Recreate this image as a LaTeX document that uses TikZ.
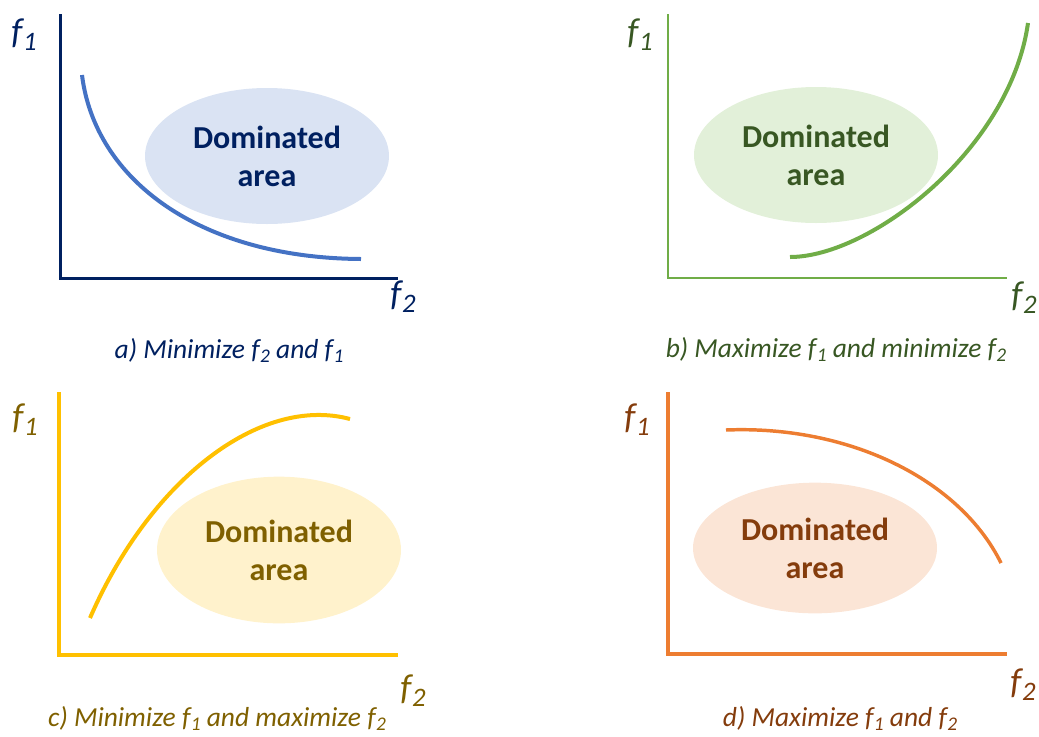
\documentclass[tikz,border=0pt]{standalone}
\usepackage{fontspec}
\setmainfont{Carlito}
\usetikzlibrary{shapes.geometric}
\definecolor{navy}{HTML}{002060}
\definecolor{bluecurve}{HTML}{4472C4}
\definecolor{bluefill}{HTML}{DAE3F3}
\definecolor{greenline}{HTML}{70AD47}
\definecolor{greentext}{HTML}{385723}
\definecolor{greenfill}{HTML}{E2F0D9}
\definecolor{goldline}{HTML}{FFC000}
\definecolor{goldtext}{HTML}{7F6000}
\definecolor{goldfill}{HTML}{FFF2CC}
\definecolor{orangeline}{HTML}{ED7D31}
\definecolor{orangetext}{HTML}{843C0C}
\definecolor{orangefill}{HTML}{FBE5D6}
\newcommand{\flab}[1]{f\kern0.5pt\raisebox{-0.4ex}{\fontsize{20}{20}\selectfont #1}}
\newcommand{\fcap}[1]{f\kern0.3pt\raisebox{-0.35ex}{\fontsize{14.5}{14.5}\selectfont #1}}
\begin{document}
\begin{tikzpicture}[x=0.75pt,y=-0.75pt,
  axisline/.style={line width=#1, line cap=butt, line join=miter},
  front/.style={line width=3pt, line cap=butt},
  dom/.style={ellipse, inner sep=0pt, align=center, minimum width=183pt, minimum height=102pt,
              font=\fontsize{24}{28.5}\selectfont\bfseries},
  flabel/.style={font=\fontsize{27}{27}\selectfont\itshape, inner sep=0pt},
  capt/.style={font=\fontsize{20.6}{20.6}\selectfont\itshape, anchor=base, inner sep=0pt}]
\useasboundingbox (0,0) rectangle (1039,736);

% ---------- a ----------
\coordinate (a-top) at (60,14);
\coordinate (a-o) at (60,278);
\coordinate (a-right) at (398,278);
\draw[axisline=2.25pt, navy] (a-top) -- (a-o) -- (a-right);
\node[dom, fill=bluefill, text=navy] (a-dom) at (267,156) {Dominated\\area};
\coordinate (a-s) at (82,75);
\coordinate (a-e) at (361,259);
\draw[front, bluecurve] (a-s) .. controls (95,180) and (200,258) .. (a-e);
\node[flabel, text=navy] (a-f1) at (24,35) {\flab{1}};
\node[flabel, text=navy] (a-f2) at (403,297) {\flab{2}};
\node[capt, text=navy] (a-cap) at (229,358) {a) Minimize \fcap{2} and \fcap{1}};

% ---------- b ----------
\coordinate (b-top) at (668,14);
\coordinate (b-o) at (668,278);
\coordinate (b-right) at (1007,278);
\draw[axisline=1.6pt, greenline] (b-top) -- (b-o) -- (b-right);
\node[dom, fill=greenfill, text=greentext] (b-dom) at (816,155) {Dominated\\area};
\coordinate (b-s) at (790,257);
\coordinate (b-e) at (1028,23);
\draw[front, greenline] (b-s) .. controls (870,257) and (1010,150) .. (b-e);
\node[flabel, text=greentext] (b-f1) at (640,35) {\flab{1}};
\node[flabel, text=greentext] (b-f2) at (1024,298) {\flab{2}};
\node[capt, text=greentext] (b-cap) at (836,357) {b) Maximize \fcap{1} and minimize \fcap{2}};

% ---------- c ----------
\coordinate (c-top) at (59,392);
\coordinate (c-o) at (59,655);
\coordinate (c-right) at (398,655);
\draw[axisline=3pt, goldline] (c-top) -- (c-o) -- (c-right);
\node[dom, fill=goldfill, text=goldtext, minimum height=110pt] (c-dom) at (279,550) {Dominated\\area};
\coordinate (c-s) at (90,618);
\coordinate (c-e) at (350,419);
\draw[front, goldline] (c-s) .. controls (150,480) and (260,395) .. (c-e);
\node[flabel, text=goldtext] (c-f1) at (25,420) {\flab{1}};
\node[flabel, text=goldtext] (c-f2) at (413,691) {\flab{2}};
\node[capt, text=goldtext] (c-cap) at (217,726) {c) Minimize \fcap{1} and maximize \fcap{2}};

% ---------- d ----------
\coordinate (d-top) at (668,392);
\coordinate (d-o) at (668,654);
\coordinate (d-right) at (1007,654);
\draw[axisline=2.6pt, orangeline] (d-top) -- (d-o) -- (d-right);
\node[dom, fill=orangefill, text=orangetext, minimum height=98pt] (d-dom) at (815,548) {Dominated\\area};
\coordinate (d-s) at (726,430);
\coordinate (d-e) at (1001,563);
\draw[front, orangeline, line width=2.6pt] (d-s) .. controls (850,425) and (960,480) .. (d-e);
\node[flabel, text=orangetext] (d-f1) at (637,420) {\flab{1}};
\node[flabel, text=orangetext] (d-f2) at (1023,685) {\flab{2}};
\node[capt, text=orangetext] (d-cap) at (840,726) {d) Maximize \fcap{1} and \fcap{2}};
\end{tikzpicture}
\end{document}
